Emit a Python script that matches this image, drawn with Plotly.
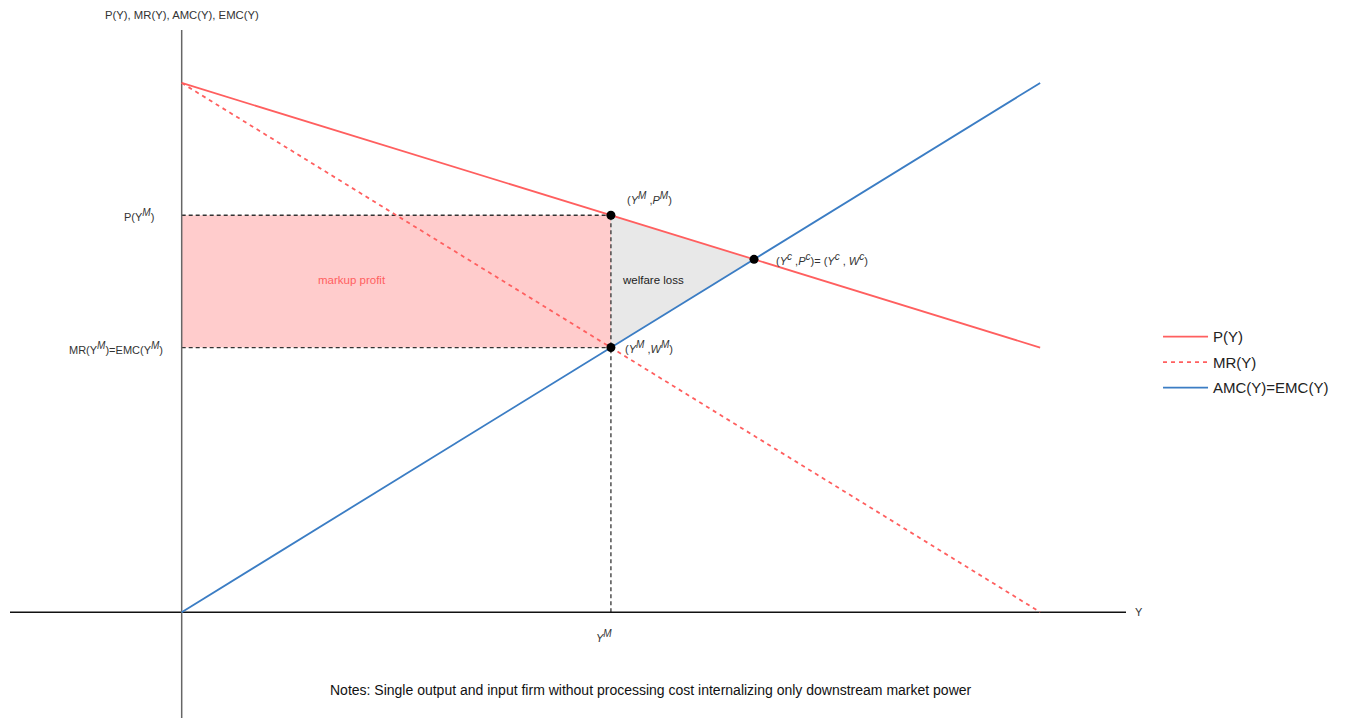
import plotly.graph_objects as go

# Data
quantity = [0, 10]
price_P = [10, 5]
mr_vals = [10, 0]
amc_vals = [0, 10]

y_m, p_m, w_m = 5, 7.5, 5
y_c, p_c = 6.667, 6.667

red = "#ff5f5f"
blue = "#3b7dc4"
font_family = "Liberation Sans, Arial, sans-serif"


def sup(s):
    return "<sup><span style='font-size:10px'><i>%s</i></span></sup>" % s


fig = go.Figure()

# Markup profit rectangle
fig.add_trace(go.Scatter(x=[0, y_m, y_m, 0, 0], y=[p_m, p_m, w_m, w_m, p_m],
                         fill="toself", fillcolor="rgba(255,0,0,0.2)", mode="none",
                         showlegend=False, hoverinfo="skip"))
# Welfare loss triangle
fig.add_trace(go.Scatter(x=[y_m, y_c, y_m, y_m], y=[p_m, p_c, w_m, p_m],
                         fill="toself", fillcolor="rgba(200,200,200,0.42)", mode="none",
                         showlegend=False, hoverinfo="skip"))

guide = dict(color="#333", width=1.3, dash="4px,3px")
fig.add_trace(go.Scatter(x=[0, y_m], y=[p_m, p_m], mode="lines", line=guide, showlegend=False, hoverinfo="skip"))
fig.add_trace(go.Scatter(x=[0, y_m], y=[w_m, w_m], mode="lines", line=guide, showlegend=False, hoverinfo="skip"))
fig.add_trace(go.Scatter(x=[y_m, y_m], y=[0, p_m], mode="lines", line=guide, showlegend=False, hoverinfo="skip"))

# Axes lines
fig.add_trace(go.Scatter(x=[-2, 11], y=[0, 0], mode="lines", line=dict(color="#111", width=1.5),
                         showlegend=False, hoverinfo="skip"))
fig.add_trace(go.Scatter(x=[0, 0], y=[-2, 11], mode="lines", line=dict(color="#666", width=1.5),
                         showlegend=False, hoverinfo="skip"))

# Curves
fig.add_trace(go.Scatter(x=quantity, y=price_P, mode="lines", name="P(Y)", legendgroup="a",
                         line=dict(color=red, width=1.8)))
fig.add_trace(go.Scatter(x=quantity, y=mr_vals, mode="lines", name="MR(Y)", legendgroup="b",
                         line=dict(color=red, width=1.8, dash="4px,4px")))
fig.add_trace(go.Scatter(x=quantity, y=amc_vals, mode="lines", name="AMC(Y)=EMC(Y)", legendgroup="c",
                         line=dict(color=blue, width=1.8)))

# Points
fig.add_trace(go.Scatter(x=[y_m, y_m, y_c], y=[p_m, w_m, p_c], mode="markers",
                         marker=dict(color="black", size=9), showlegend=False, hoverinfo="skip"))

ann_font = dict(family=font_family, size=11, color="#333")
anns = [
    dict(x=-0.3, y=p_m, text="P(Y" + sup("M") + ")", xanchor="right", yanchor="middle"),
    dict(x=-0.2, y=w_m, text="MR(Y" + sup("M") + ")=EMC(Y" + sup("M") + ")", xanchor="right", yanchor="middle"),
    dict(x=y_m, y=p_m, text="(<i>Y</i>" + sup("M") + " ,<i>P</i>" + sup("M") + ")", xanchor="left", yanchor="middle", xshift=14, yshift=17),
    dict(x=y_c, y=p_c, text="(<i>Y</i>" + sup("c") + " ,<i>P</i>" + sup("c") + ")= (<i>Y</i>" + sup("c") + " , <i>W</i>" + sup("c") + ")",
         xanchor="left", yanchor="middle", xshift=20),
    dict(x=y_m, y=w_m, text="(<i>Y</i>" + sup("M") + " ,<i>W</i>" + sup("M") + ")", xanchor="left", yanchor="middle", xshift=12, yshift=1),
    dict(x=5.49, y=6.28, text="welfare loss", xanchor="center", yanchor="middle", font=dict(family=font_family, size=11.5, color="#222")),
    dict(x=1.98, y=6.28, text="markup profit", xanchor="center", yanchor="middle", font=dict(family=font_family, size=11.5, color=red)),
    dict(x=4.92, y=-0.45, text="<i>Y</i>" + sup("M"), xanchor="center", yanchor="middle"),
    dict(x=1, y=0, xref="paper", text="Y", xanchor="left", yanchor="middle", xshift=7),
    dict(x=0, y=1, yref="paper", text="P(Y), MR(Y), AMC(Y), EMC(Y)", xanchor="center", yanchor="middle", yshift=15,
         font=dict(family=font_family, size=11.3, color="#333")),
    dict(x=5.47, y=-1.47, text="Notes: Single output and input firm without processing cost internalizing only downstream market power",
         xanchor="center", yanchor="middle", font=dict(family=font_family, size=14, color="#111")),
]
for a in anns:
    a.setdefault("font", ann_font)
    a.setdefault("xref", "x")
    a.setdefault("yref", "y")
    a["showarrow"] = False

fig.update_layout(
    width=1330, height=710,
    margin=dict(l=2, r=212, t=22, b=0),
    plot_bgcolor="white", paper_bgcolor="white",
    xaxis=dict(range=[-2, 11], visible=False, fixedrange=True),
    yaxis=dict(range=[-2, 11], visible=False, fixedrange=True),
    annotations=anns,
    showlegend=True,
    legend=dict(x=1.0287, y=0.517, xanchor="left", yanchor="middle",
                font=dict(family=font_family, size=15, color="#222"),
                bgcolor="rgba(0,0,0,0)", tracegroupgap=3, itemwidth=45),
    hovermode=False,
    font=dict(family=font_family),
)

fig.write_html("out.html")
